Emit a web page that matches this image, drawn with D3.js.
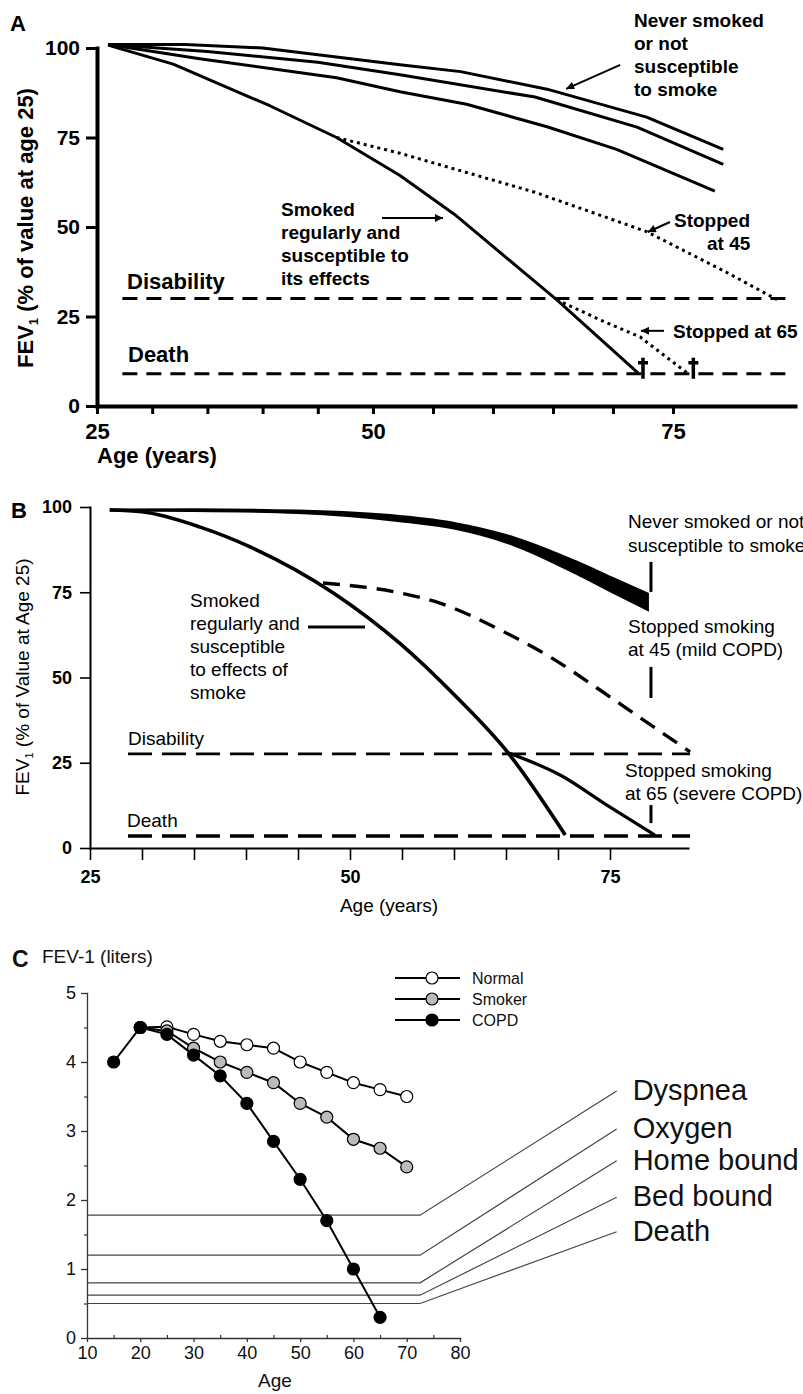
<!DOCTYPE html>
<html lang="en">
<head>
<meta charset="utf-8">
<script src="https://cdn.jsdelivr.net/npm/d3@7"></script>
<style>
  body { margin: 0; background: #fff; }
  svg { display: block; font-family: "Liberation Sans", Arial, Helvetica, sans-serif; }
</style>
</head>
<body>
<script>
// ---------- data (age, value) ----------
// Panel A : FEV1 as % of value at age 25
var aNever1 = [[26,101],[33,101],[40,100],[52.25,95.3],[57.3,93.4],[64.5,88.5],[72.8,80.7],[79.2,71.7]];
var aNever2 = [[26,101],[35,99],[45,96],[52.25,92.5],[63.5,86.3],[72,77.9],[79.2,67.5]];
var aNever3 = [[26,101],[34.3,97],[46.7,91.7],[52.25,87.8],[57.8,84.3],[64.5,78],[70.3,71.7],[78.5,60]];
var aSmoker = [[26,100.8],[31.9,95.5],[40.7,83.8],[46.7,75],[52.25,64.4],[56.8,53.5],[62.8,36.7],[65.3,29.7],[72.1,9.2]];
var aStop45 = [[46.7,75],[52.25,70.6],[63.5,59.7],[72.8,48.7],[79.5,37.3],[83.7,29.7]];
var aStop65 = [[65.3,29.7],[68.9,24.1],[72.25,19.3],[76.2,9.2]];
var aDaggers = [72.5, 76.7];
var aDisability = 30, aDeath = 9;
var aXTicks = [25,30,35,40,45,50,55,60,65,70,75];
var aYTicks = [0,25,50,75,100];

// Panel B
var bNeverUp = [[26.9,99.1],[35,99.2],[45,98.8],[54.8,97.2],[60,95.2],[65.7,91.0],[71.8,83.8],[75.3,79.0],[78.6,74.5]];
var bNeverLo = [[26.9,99.1],[35,99.0],[45,98.4],[54.8,96.0],[60,93.8],[65.7,89.0],[71.8,80.5],[75.3,75.0],[78.6,70.0]];
var bSmoker = [[26.9,99.1],[30,98.6],[35.6,94.1],[40.4,88.3],[48.4,74.8],[54.8,60],[60,45],[65.2,27.9],[70.7,3.8]];
var bStop45 = [[47.4,77.7],[54.8,74.8],[58.65,71.8],[64.4,64.0],[69.2,56.1],[74,46.4],[77.9,38.2],[82.7,28.2]];
var bStop65 = [[65.2,27.9],[70.2,21.4],[74.7,12.6],[79.3,3.8]];
var bDisability = 27.6, bDeath = 3.5;
var bXTicks = [25,30,35,40,45,50,55,60,65,70,75];
var bYTicks = [0,25,50,75,100];

// Panel C : FEV-1 in liters
var cNormal = [[20,4.5],[25,4.51],[30,4.4],[35,4.3],[40,4.25],[45,4.2],[50,4.0],[55,3.85],[60,3.7],[65,3.6],[70,3.5]];
var cSmoker = [[20,4.5],[25,4.45],[30,4.2],[35,4.0],[40,3.85],[45,3.7],[50,3.4],[55,3.2],[60,2.88],[65,2.75],[70,2.48]];
var cCopd   = [[15,4.0],[20,4.5],[25,4.4],[30,4.1],[35,3.8],[40,3.4],[45,2.85],[50,2.3],[55,1.7],[60,1.0],[65,0.3]];
var cLevelNames = ["Dyspnea","Oxygen","Home bound","Bed bound","Death"];
var cLevels     = [1.78, 1.2, 0.8, 0.62, 0.5];
var cLabelAt    = [3.58, 3.03, 2.57, 2.04, 1.54];
var cSeriesNames = ["Normal","Smoker","COPD"];
var cSeriesFill  = ["#fff","#bbb","#000"];

var W = 803, H = 1394;

var svg = d3.select("body").append("svg")
  .attr("width", W).attr("height", H);

var defs = svg.append("defs");
defs.append("marker")
  .attr("id", "arrow")
  .attr("viewBox", "0 0 10 10")
  .attr("refX", 10).attr("refY", 5)
  .attr("markerUnits", "userSpaceOnUse")
  .attr("markerWidth", 10).attr("markerHeight", 8)
  .attr("orient", "auto")
  .append("path").attr("d", "M0,0L10,5L0,10z").attr("fill", "#000");

function styleAxis(g, o) {
  g.attr("font-family", null).attr("font-size", null);
  g.select(".domain").attr("stroke-width", o.domainW).attr("stroke-linecap", "square").attr("stroke", o.color || "#000");
  g.selectAll(".tick line").attr("stroke-width", o.tickW).attr("stroke", o.color || "#000");
  g.selectAll(".tick text")
    .attr("font-size", o.fs)
    .attr("font-weight", o.fw)
    .attr("fill", o.textColor || "#000");
}

function addText(g, x, y, lines, o) {
  var t = g.append("text")
    .attr("x", x).attr("y", y)
    .attr("font-size", o.fs)
    .attr("font-weight", o.fw || "normal")
    .attr("text-anchor", o.anchor || "start")
    .attr("fill", o.color || "#000");
  lines.forEach(function(s, i) {
    t.append("tspan").attr("x", x).attr("dy", i === 0 ? 0 : o.lh).text(s);
  });
  return t;
}

// ======================= PANEL A =======================
(function() {
  var x = d3.scaleLinear().domain([25, 50, 75, 85.2]).range([97, 373, 673, 795]);
  var y = d3.scaleLinear().domain([0, 100]).range([406, 48]);
  var g = svg.append("g");
  var line = d3.line().x(d => x(d[0])).y(d => y(d[1]));

  // reference levels
  [aDisability, aDeath].forEach(function(v) {
    g.append("line")
      .attr("x1", x(27.3)).attr("x2", x(84.5))
      .attr("y1", y(v)).attr("y2", y(v))
      .attr("stroke", "#000").attr("stroke-width", 3)
      .attr("stroke-dasharray", "15,9");
  });

  [aNever1, aNever2, aNever3, aSmoker].forEach(function(d) {
    g.append("path").datum(d).attr("d", line)
      .attr("fill", "none").attr("stroke", "#000").attr("stroke-width", 3)
      .attr("stroke-linejoin", "round");
  });
  [aStop45, aStop65].forEach(function(d) {
    g.append("path").datum(d).attr("d", line)
      .attr("fill", "none").attr("stroke", "#000").attr("stroke-width", 3)
      .attr("stroke-dasharray", "3,4");
  });

  // daggers at death level
  aDaggers.forEach(function(a) {
    var cx = x(a), cy = y(aDeath);
    g.append("path")
      .attr("d", "M" + cx + "," + (cy - 16) + "V" + (cy + 5) + "M" + (cx - 5) + "," + (cy - 11) + "H" + (cx + 5))
      .attr("stroke", "#000").attr("stroke-width", 3.5).attr("fill", "none");
  });

  // axes
  var xAxis = g.append("g").attr("transform", "translate(0," + y(0) + ")")
    .call(d3.axisBottom(x).tickValues(aXTicks).tickSize(8).tickSizeOuter(0).tickPadding(9)
      .tickFormat(d => d % 25 === 0 ? d : ""));
  styleAxis(xAxis, {domainW: 4, tickW: 3, fs: 22, fw: "bold"});
  var yAxis = g.append("g").attr("transform", "translate(" + x(25) + ",0)")
    .call(d3.axisLeft(y).tickValues(aYTicks).tickSize(11).tickSizeOuter(0).tickPadding(6));
  styleAxis(yAxis, {domainW: 4, tickW: 3, fs: 21, fw: "bold"});

  addText(g, 10, 31, ["A"], {fs: 22, fw: "bold"});
  addText(g, 97, 463, ["Age (years)"], {fs: 22, fw: "bold"});

  var yl = g.append("text")
    .attr("transform", "translate(33,228) rotate(-90)")
    .attr("text-anchor", "middle").attr("font-size", 22).attr("font-weight", "bold");
  yl.append("tspan").text("FEV");
  yl.append("tspan").attr("font-size", 13).attr("dy", 5).text("1");
  yl.append("tspan").attr("dy", -5).text(" (% of value at age 25)");

  addText(g, 127, 289, ["Disability"], {fs: 22, fw: "bold"});
  addText(g, 128, 362, ["Death"], {fs: 22, fw: "bold"});
  addText(g, 281, 216, ["Smoked", "regularly and", "susceptible to", "its effects"], {fs: 19, fw: "bold", lh: 23});
  addText(g, 634, 27, ["Never smoked", "or not", "susceptible", "to smoke"], {fs: 19, fw: "bold", lh: 23});
  addText(g, 674, 227, ["Stopped"], {fs: 19, fw: "bold"});
  addText(g, 707, 250, ["at 45"], {fs: 19, fw: "bold"});
  addText(g, 673, 338, ["Stopped at 65"], {fs: 19, fw: "bold"});

  // arrows [from, to] in data units
  var arrows = [
    [[70.6, 95.3], [66.1, 88.6]],
    [[50.75, 52.5], [55.83, 52.5]],
    [[74.75, 51.4], [72.9, 48.6]],
    [[74.25, 21], [72.33, 21]]
  ];
  arrows.forEach(function(a) {
    g.append("line")
      .attr("x1", x(a[0][0])).attr("y1", y(a[0][1]))
      .attr("x2", x(a[1][0])).attr("y2", y(a[1][1]))
      .attr("stroke", "#000").attr("stroke-width", 2)
      .attr("marker-end", "url(#arrow)");
  });
})();

// ======================= PANEL B =======================
(function() {
  var x = d3.scaleLinear().domain([25, 82.5]).range([90, 688]);
  var y = d3.scaleLinear().domain([0, 100]).range([848, 507]);
  var g = svg.append("g");
  var line = d3.line().x(d => x(d[0])).y(d => y(d[1])).curve(d3.curveMonotoneX);

  [bDisability, bDeath].forEach(function(v, i) {
    g.append("line")
      .attr("x1", x(28.65)).attr("x2", x(82.7))
      .attr("y1", y(v)).attr("y2", y(v))
      .attr("stroke", "#000").attr("stroke-width", i === 0 ? 2.6 : 3.4)
      .attr("stroke-dasharray", "24,10");
  });

  // never smoked band
  var band = bNeverUp.map((d, i) => [d[0], d[1], bNeverLo[i][1]]);
  g.append("path").datum(band)
    .attr("d", d3.area().x(d => x(d[0])).y0(d => y(d[2])).y1(d => y(d[1])).curve(d3.curveMonotoneX))
    .attr("fill", "#000").attr("stroke", "#000").attr("stroke-width", 3);

  g.append("path").datum(bSmoker).attr("d", line)
    .attr("fill", "none").attr("stroke", "#000").attr("stroke-width", 3.6);
  g.append("path").datum(bStop65).attr("d", line)
    .attr("fill", "none").attr("stroke", "#000").attr("stroke-width", 3.2);
  g.append("path").datum(bStop45).attr("d", line)
    .attr("fill", "none").attr("stroke", "#000").attr("stroke-width", 3.4)
    .attr("stroke-dasharray", "17,10");

  var xAxis = g.append("g").attr("transform", "translate(0," + y(0) + ")")
    .call(d3.axisBottom(x).tickValues(bXTicks).tickSize(12).tickSizeOuter(0).tickPadding(10)
      .tickFormat(d => d % 25 === 0 ? d : ""));
  styleAxis(xAxis, {domainW: 2, tickW: 1.6, fs: 18, fw: "bold"});
  var yAxis = g.append("g").attr("transform", "translate(" + x(25) + ",0)")
    .call(d3.axisLeft(y).tickValues(bYTicks).tickSize(10).tickSizeOuter(0).tickPadding(8));
  styleAxis(yAxis, {domainW: 2, tickW: 1.6, fs: 18, fw: "bold"});

  addText(g, 11, 518, ["B"], {fs: 22, fw: "bold"});
  addText(g, 389, 912, ["Age (years)"], {fs: 19, anchor: "middle"});

  var yl = g.append("text")
    .attr("transform", "translate(29,677) rotate(-90)")
    .attr("text-anchor", "middle").attr("font-size", 19);
  yl.append("tspan").text("FEV");
  yl.append("tspan").attr("font-size", 11).attr("dy", 4).text("1");
  yl.append("tspan").attr("dy", -4).text(" (% of Value at Age 25)");

  addText(g, 128, 745, ["Disability"], {fs: 19});
  addText(g, 127, 827, ["Death"], {fs: 19});
  addText(g, 190, 607, ["Smoked", "regularly and", "susceptible", "to effects of", "smoke"], {fs: 19, lh: 23});
  addText(g, 628, 528, ["Never smoked or not", "susceptible to smoke"], {fs: 19, lh: 24});
  addText(g, 628, 633, ["Stopped smoking", "at 45 (mild COPD)"], {fs: 19, lh: 23});
  addText(g, 625, 777, ["Stopped smoking", "at 65 (severe COPD)"], {fs: 19, lh: 23});

  // pointer strokes [x0,y0,x1,y1] in data units
  var marks = [
    [45.96, 64.8, 51.44, 64.8],
    [78.94, 83.9, 78.94, 75.1],
    [78.94, 53.1, 78.94, 44.0],
    [78.94, 12.6, 78.94, 7.3]
  ];
  marks.forEach(function(m) {
    g.append("line")
      .attr("x1", x(m[0])).attr("y1", y(m[1]))
      .attr("x2", x(m[2])).attr("y2", y(m[3]))
      .attr("stroke", "#000").attr("stroke-width", 3);
  });
})();

// ======================= PANEL C =======================
(function() {
  var x = d3.scaleLinear().domain([10, 80]).range([87, 460]);
  var y = d3.scaleLinear().domain([0, 5]).range([1338, 993]);
  var g = svg.append("g");
  var line = d3.line().x(d => x(d[0])).y(d => y(d[1]));

  // threshold levels and their leader lines
  cLevels.forEach(function(v, i) {
    var pts = [[10, v], [72.5, v], [109.4, cLabelAt[i]]];
    g.append("path").datum(pts).attr("d", line)
      .attr("fill", "none").attr("stroke", "#444").attr("stroke-width", 1.2);
    g.append("text")
      .attr("x", x(109.4) + 16).attr("y", y(cLabelAt[i]) + 9)
      .attr("font-size", 29).attr("fill", "#111")
      .text(cLevelNames[i]);
  });

  // axes
  var xAxis = g.append("g").attr("transform", "translate(0," + y(0) + ")")
    .call(d3.axisBottom(x).tickValues(d3.range(10, 81, 10)).tickSize(4).tickSizeOuter(0).tickPadding(4));
  styleAxis(xAxis, {domainW: 1.3, tickW: 1.3, fs: 18, fw: "normal", color: "#333", textColor: "#111"});
  var xMinor = g.append("g").attr("transform", "translate(0," + y(0) + ")")
    .call(d3.axisBottom(x).tickValues(d3.range(15, 80, 10)).tickSize(-3).tickFormat(""));
  xMinor.select(".domain").remove();
  xMinor.selectAll(".tick line").attr("stroke", "#333").attr("stroke-width", 1.2);

  var yAxis = g.append("g").attr("transform", "translate(" + x(10) + ",0)")
    .call(d3.axisLeft(y).tickValues(d3.range(0, 6, 1)).tickFormat(d3.format("d"))
      .tickSize(6).tickSizeOuter(0).tickPadding(5));
  styleAxis(yAxis, {domainW: 1.3, tickW: 1.3, fs: 18, fw: "normal", color: "#333", textColor: "#111"});
  var yMinor = g.append("g").attr("transform", "translate(" + x(10) + ",0)")
    .call(d3.axisLeft(y).tickValues(d3.range(0.5, 5, 1)).tickSize(3).tickFormat(""));
  yMinor.select(".domain").remove();
  yMinor.selectAll(".tick line").attr("stroke", "#333").attr("stroke-width", 1.2);

  addText(g, 12, 967, ["C"], {fs: 23, fw: "bold", color: "#111"});
  addText(g, 42, 963, ["FEV-1 (liters)"], {fs: 19, color: "#111"});
  addText(g, 275, 1387, ["Age"], {fs: 19, anchor: "middle", color: "#111"});

  // series
  [cNormal, cSmoker, cCopd].forEach(function(d, i) {
    g.append("path").datum(d).attr("d", line)
      .attr("fill", "none").attr("stroke", "#000").attr("stroke-width", 2);
    g.append("g").selectAll("circle").data(d).enter().append("circle")
      .attr("cx", p => x(p[0])).attr("cy", p => y(p[1])).attr("r", 6)
      .attr("fill", cSeriesFill[i]).attr("stroke", "#000").attr("stroke-width", 1.2);
  });

  // legend
  var lg = g.append("g").attr("transform", "translate(395,978)");
  cSeriesNames.forEach(function(n, i) {
    var r = lg.append("g").attr("transform", "translate(0," + (i * 21) + ")");
    r.append("line").attr("x1", 0).attr("x2", 65).attr("stroke", "#000").attr("stroke-width", 2);
    r.append("circle").attr("cx", 37).attr("r", 6)
      .attr("fill", cSeriesFill[i]).attr("stroke", "#000").attr("stroke-width", 1.2);
    r.append("text").attr("x", 77).attr("y", 5.5).attr("font-size", 16).attr("fill", "#111").text(n);
  });
})();
</script>
</body>
</html>
